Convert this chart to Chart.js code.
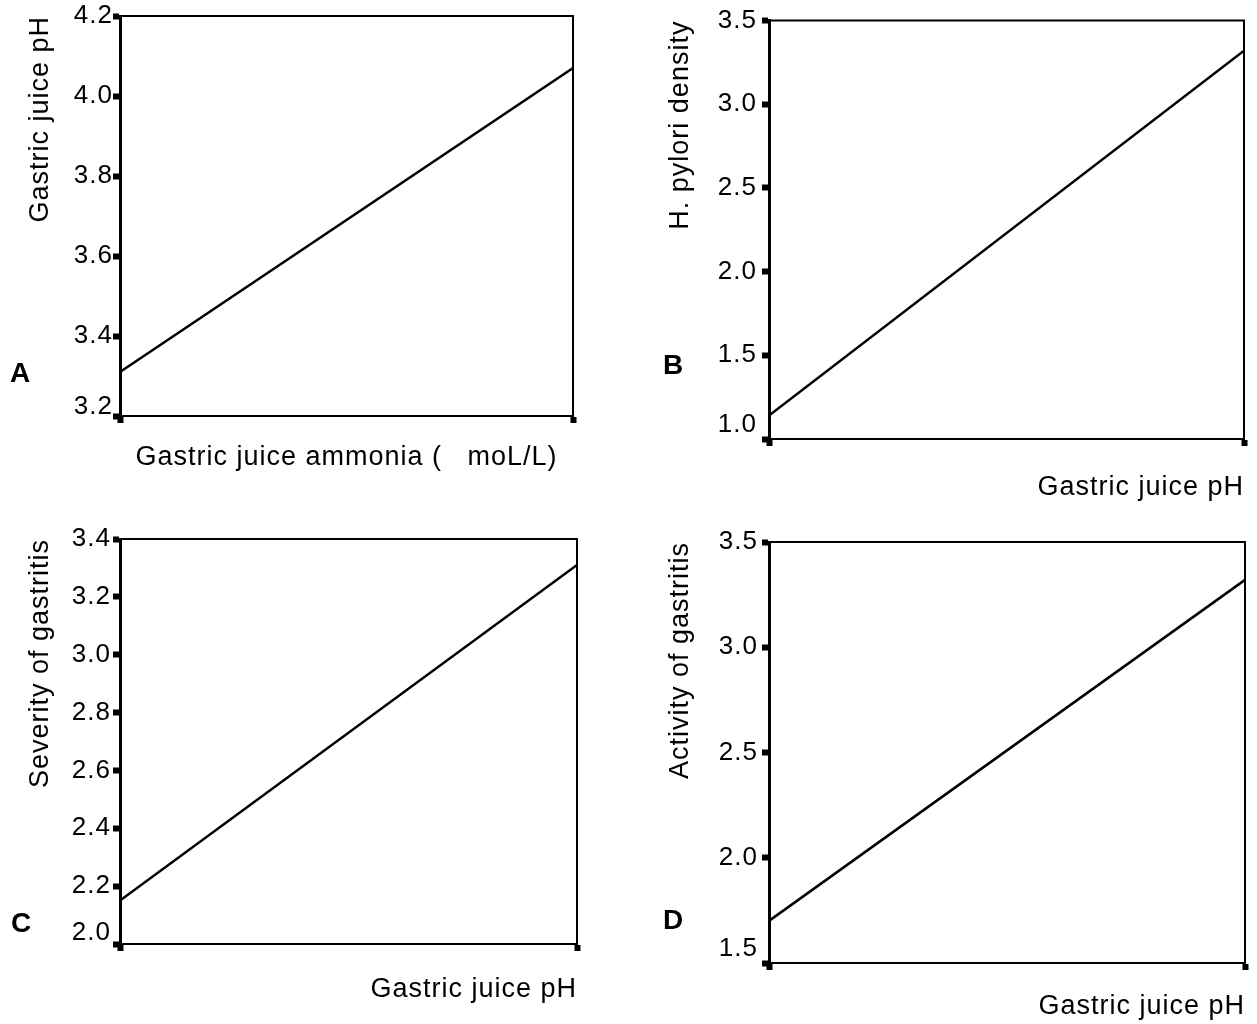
<!DOCTYPE html>
<html>
<head>
<meta charset="utf-8">
<script src="https://cdn.jsdelivr.net/npm/chart.js@4/dist/chart.umd.min.js"></script>
<style>
  body { margin: 0; background: #fff; }
  #wrap { position: relative; width: 1257px; height: 1024px; overflow: hidden; }
  canvas { position: absolute; }
  .tag { position: absolute; font: bold 28px "Liberation Sans", Arial, sans-serif; line-height: 28px; color: #000; }
</style>
</head>
<body>
<div id="wrap">
  <canvas id="c0" width="628" height="500" style="left:0px;top:0px"></canvas>
  <canvas id="c1" width="617" height="520" style="left:640px;top:0px"></canvas>
  <canvas id="c2" width="640" height="504" style="left:0px;top:520px"></canvas>
  <canvas id="c3" width="617" height="504" style="left:640px;top:520px"></canvas>
  <div class="tag" style="left:10px;top:359px">A</div>
  <div class="tag" style="left:663px;top:351px">B</div>
  <div class="tag" style="left:11px;top:909px">C</div>
  <div class="tag" style="left:663px;top:906px">D</div>
</div>
<script>
// values
const yTitles = ['Gastric juice pH', 'H. pylori density', 'Severity of gastritis', 'Activity of gastritis']
const xTitles = ['Gastric juice ammonia (   moL/L)', 'Gastric juice pH', 'Gastric juice pH', 'Gastric juice pH']
const yMin = [3.2, 1.0, 2.0, 1.5]
const yMax = [4.2, 3.5, 3.4, 3.5]
const yStep = [0.2, 0.5, 0.2, 0.5]
const xRange = [0, 1]
const fitStart = [3.31, 1.14, 2.15, 1.70]
const fitEnd = [4.07, 3.32, 3.31, 3.32]

// placement of each panel inside its canvas
const boxes = [
    {axisW: 120, axisH: 84, top: 16, right: 55, xAlign: 'center', xPad: 26, tickPad: 0, lowShift: 18},
    {axisW: 129, axisH: 81, top: 19, right: 13, xAlign: 'end', xPad: 16, tickPad: 5, lowShift: 28},
    {axisW: 120, axisH: 80, top: 19, right: 63, xAlign: 'end', xPad: 18, tickPad: 2, lowShift: 22},
    {axisW: 129, axisH: 61, top: 22, right: 12, xAlign: 'end', xPad: 1, tickPad: 4, lowShift: 28}
]

const fam = '"Liberation Sans", Arial, sans-serif'
Chart.defaults.color = '#000'
Chart.defaults.font.family = fam

const spacing = {
    id: 'spacing',
    beforeUpdate(chart) { chart.ctx.letterSpacing = '1px' },
    beforeDraw(chart) { chart.ctx.letterSpacing = '1px' }
}

const frame = {
    id: 'frame',
    afterDatasetsDraw(chart) {
        const {ctx, chartArea: a} = chart
        ctx.save()
        ctx.strokeStyle = '#000'
        ctx.lineWidth = 2
        ctx.beginPath()
        ctx.moveTo(a.left, a.top)
        ctx.lineTo(a.right, a.top)
        ctx.lineTo(a.right, a.bottom)
        ctx.stroke()
        ctx.restore()
    }
}

yTitles.forEach((yTitle, i) => {
    let b = boxes[i]
    let isLow = v => Math.abs(v - yMin[i]) < 1e-9

    new Chart(document.getElementById('c' + i), {
        type: 'line',
        data: {
            datasets: [{
                data: [{x: xRange[0], y: fitStart[i]}, {x: xRange[1], y: fitEnd[i]}],
                borderColor: '#000',
                borderWidth: 2.5,
                pointRadius: 0,
                fill: false
            }]
        },
        options: {
            responsive: false,
            animation: false,
            layout: {padding: {top: b.top, right: b.right, left: 0, bottom: 0}},
            plugins: {legend: {display: false}, tooltip: {enabled: false}},
            scales: {
                x: {
                    type: 'linear',
                    min: xRange[0],
                    max: xRange[1],
                    ticks: {display: false, stepSize: 1},
                    grid: {drawOnChartArea: false, tickLength: 7, tickWidth: 6, tickColor: '#000'},
                    border: {color: '#000', width: 2},
                    title: {display: true, text: xTitles[i], align: b.xAlign, font: {size: 27}, padding: {top: 0, bottom: b.xPad}},
                    afterFit: s => { s.height = b.axisH }
                },
                y: {
                    min: yMin[i],
                    max: yMax[i],
                    ticks: {
                        stepSize: yStep[i],
                        padding: b.tickPad,
                        callback: v => isLow(v) ? [v.toFixed(1), ''] : v.toFixed(1),
                        font: c => ({
                            family: fam,
                            size: 26,
                            lineHeight: c.tick && isLow(c.tick.value) ? b.lowShift / 26 : 1.2
                        })
                    },
                    grid: {drawOnChartArea: false, tickLength: 7, tickWidth: 6, tickColor: '#000'},
                    border: {color: '#000', width: 3},
                    title: {display: true, text: yTitle, align: 'end', font: {size: 27}, padding: {top: 24, bottom: 0}},
                    afterFit: s => { s.width = b.axisW }
                }
            }
        },
        plugins: [spacing, frame]
    })
})
</script>
</body>
</html>
